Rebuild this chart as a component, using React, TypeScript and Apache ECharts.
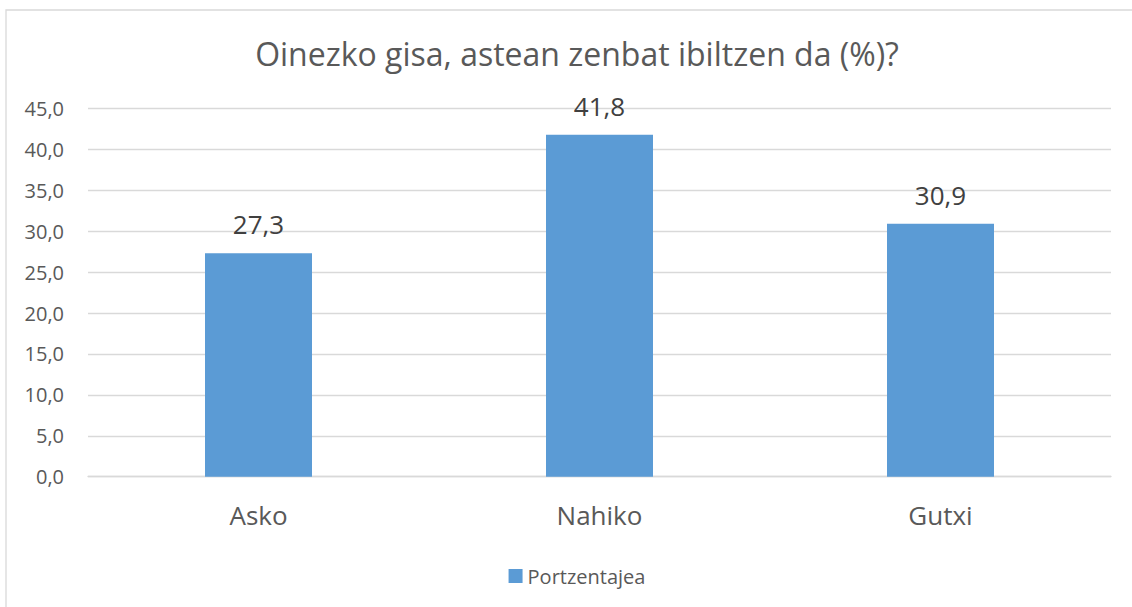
import React, { useEffect, useRef } from "react";
import * as echarts from "echarts";

const title = "Oinezko gisa, astean zenbat ibiltzen da (%)?";
const categories = ["Asko", "Nahiko", "Gutxi"];
const seriesName = "Portzentajea";
const values = [27.3, 41.8, 30.9];
const yMin = 0;
const yMax = 45;
const yInterval = 5;

const fmt = (v: number) => v.toFixed(1).replace(".", ",");

export default function App() {
  const ref = useRef<HTMLDivElement>(null);
  useEffect(() => {
    if (!ref.current) return;
    const chart = echarts.init(ref.current, null, { renderer: "svg" });
    const font = "'Open Sans', sans-serif";
    const textColor = "#595959";
    chart.setOption({
      animation: false,
      backgroundColor: "#ffffff",
      textStyle: { fontFamily: font },
      title: {
        text: title,
        left: "center",
        top: 32,
        textStyle: { fontFamily: font, fontSize: 32, fontWeight: "normal", color: textColor },
      },
      graphic: [
        {
          type: "rect",
          shape: { x: 6, y: 10, width: 1300, height: 800 },
          style: { fill: "none", stroke: "#D9D9D9", lineWidth: 1.3 },
          silent: true,
          z: -1,
        },
      ],
      legend: {
        data: [seriesName],
        bottom: 16,
        left: "center",
        itemWidth: 14,
        itemHeight: 14,
        itemGap: 10,
        icon: "rect",
        textStyle: { fontFamily: font, fontSize: 20, color: textColor },
      },
      grid: { left: 88, right: 43, top: 108.5, bottom: 130.3, containLabel: false },
      xAxis: {
        type: "category",
        data: categories,
        axisLine: { show: true, lineStyle: { color: "#D9D9D9", width: 1.3 } },
        axisTick: { show: false },
        axisLabel: { fontFamily: font, fontSize: 26, color: textColor, margin: 25 },
      },
      yAxis: {
        type: "value",
        min: yMin,
        max: yMax,
        interval: yInterval,
        axisLine: { show: false },
        axisTick: { show: false },
        splitLine: { lineStyle: { color: "#D9D9D9", width: 1.3 } },
        axisLabel: {
          fontFamily: font,
          fontSize: 20,
          color: textColor,
          margin: 24,
          formatter: (v: number) => fmt(v),
        },
      },
      series: [
        {
          name: seriesName,
          type: "bar",
          data: values,
          barWidth: 107,
          itemStyle: { color: "#5B9BD5" },
          label: {
            show: true,
            position: "top",
            distance: 16,
            fontFamily: font,
            fontSize: 26,
            color: "#404040",
            formatter: (p: any) => fmt(p.value),
          },
        },
      ],
    });
    return () => chart.dispose();
  }, []);
  return (
    <div style={{ position: "absolute", left: 0, top: 0, width: 1132, height: 607, overflow: "hidden" }}>
      <div ref={ref} style={{ width: 1154, height: 607 }} />
    </div>
  );
}
